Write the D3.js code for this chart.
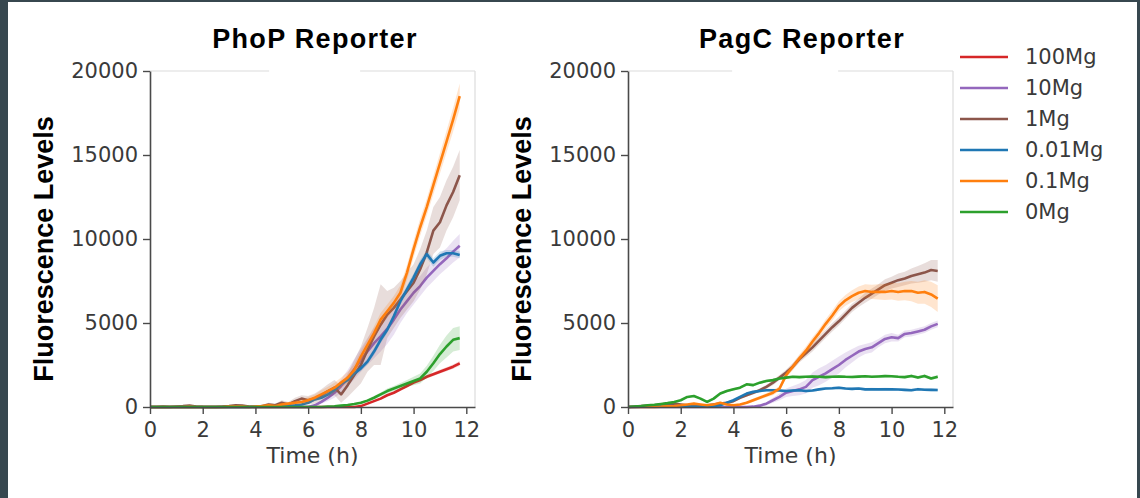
<!DOCTYPE html>
<html>
<head>
<meta charset="utf-8">
<script src="https://cdn.jsdelivr.net/npm/d3@7"></script>
<style>
	html, body { margin: 0; padding: 0; background: #37474f; }
	#chart { width: 1140px; height: 498px; }
</style>
</head>
<body>
<div id="chart"></div>
<script>
// sample times (h)
const hours = [0, 0.25, 0.5, 0.75, 1, 1.25, 1.5, 1.75, 2, 2.25, 2.5, 2.75, 3, 3.25, 3.5, 3.75,
	4, 4.25, 4.5, 4.75, 5, 5.25, 5.5, 5.75, 6, 6.25, 6.5, 6.75, 7, 7.25, 7.5, 7.75,
	8, 8.25, 8.5, 8.75, 9, 9.25, 9.5, 9.75, 10, 10.25, 10.5, 10.75, 11, 11.25, 11.5, 11.75]

const seriesLabels = ["100Mg", "10Mg", "1Mg", "0.01Mg", "0.1Mg", "0Mg"]
const seriesColors = ["#d62728", "#9467bd", "#8c564b", "#1f77b4", "#ff7f0e", "#2ca02c"]

const xTicks = [0, 2, 4, 6, 8, 10, 12]
const yTicks = [0, 5000, 10000, 15000, 20000]

// ---- PhoP reporter ----
const phop100 = [0, 0, 0, 0, 0, 0, 0, 0, 0, 0, 0, 0, 0, 0, 0, 0,
	0, 0, 0, 0, 0, 0, 0, 0, 0, 0, 0, 0, 0, 0, 0, 0,
	50, 200, 350, 500, 700, 850, 1050, 1250, 1450, 1600, 1800, 1950, 2100, 2250, 2400, 2600]
const phop100Sd = [0, 0, 0, 0, 0, 0, 0, 0, 0, 0, 0, 0, 0, 0, 0, 0,
	0, 0, 0, 0, 0, 0, 0, 0, 0, 0, 0, 0, 0, 0, 0, 0,
	20, 30, 40, 50, 60, 70, 80, 80, 90, 90, 100, 100, 110, 120, 130, 140]

const phop10 = [0, 0, 0, 0, 0, 0, 0, 0, 0, 0, 0, 0, 0, 0, 0, 0,
	0, 0, 0, 0, 0, 0, 0, 0, 0, 100, 300, 550, 850, 1250, 1700, 2250,
	2800, 3300, 3800, 4200, 4650, 5200, 5800, 6300, 6800, 7200, 7700, 8100, 8500, 8850, 9250, 9600]
const phop10Sd = [0, 0, 0, 0, 0, 0, 0, 0, 0, 0, 0, 0, 0, 0, 0, 0,
	0, 0, 0, 0, 0, 0, 0, 0, 0, 50, 100, 200, 300, 400, 500, 600,
	700, 800, 900, 900, 900, 900, 800, 700, 700, 600, 600, 600, 600, 600, 650, 700]

const phop1 = [0, 0, 20, 0, 30, 50, 80, 30, 10, 0, 0, 20, 50, 100, 80, 30,
	0, 50, 150, 100, 250, 150, 350, 500, 400, 500, 700, 950, 1150, 750, 1300, 1900,
	2500, 3400, 4200, 4900, 5500, 5900, 6400, 6900, 7400, 8200, 9200, 10500, 11000, 12000, 12800, 13800]
const phop1Sd = [0, 0, 0, 0, 0, 0, 0, 0, 0, 0, 0, 0, 0, 0, 0, 0,
	50, 80, 100, 100, 150, 150, 200, 200, 250, 300, 350, 400, 450, 500, 700, 900,
	1100, 1300, 1700, 2400, 1400, 1200, 1100, 1100, 1100, 1200, 1300, 1400, 1500, 1500, 1500, 1500]

const phop001 = [0, 0, 0, 0, 0, 0, 0, 0, 0, 0, 0, 0, 0, 0, 0, 0,
	20, 30, 50, 40, 80, 60, 100, 150, 250, 450, 550, 750, 1000, 1400, 1600, 2000,
	2300, 2700, 3300, 4000, 4600, 5400, 6300, 7000, 7700, 8500, 9100, 8600, 9000, 9150, 9150, 9050]
const phop001Sd = [0, 0, 0, 0, 0, 0, 0, 0, 0, 0, 0, 0, 0, 0, 0, 0,
	0, 0, 0, 0, 20, 30, 50, 60, 80, 100, 100, 120, 150, 150, 150, 150,
	150, 150, 200, 200, 200, 200, 200, 250, 250, 250, 250, 250, 250, 200, 200, 200]

const phop01 = [0, 0, 0, 0, 0, 0, 10, 0, 0, 0, 0, 0, 20, 30, 20, 0,
	30, 50, 100, 50, 150, 200, 250, 300, 400, 550, 750, 950, 1150, 1450, 1750, 2200,
	3000, 3700, 4400, 5200, 5700, 6200, 6800, 8000, 9400, 10700, 11900, 13200, 14500, 15800, 17100, 18500]
const phop01Sd = [0, 0, 0, 0, 0, 0, 0, 0, 0, 0, 0, 0, 0, 0, 0, 0,
	30, 50, 60, 80, 100, 100, 120, 150, 200, 200, 250, 250, 300, 300, 350, 350,
	350, 350, 400, 400, 400, 400, 450, 450, 500, 500, 500, 550, 600, 650, 700, 750]

const phop0 = [0, 0, 0, 0, 0, 0, 0, 0, 0, 0, 0, 0, 0, 0, 0, 0,
	0, 0, 0, 0, 0, 0, 0, 0, 0, 0, 0, 20, 40, 80, 120, 180,
	250, 380, 550, 750, 950, 1100, 1250, 1400, 1550, 1700, 2100, 2600, 3150, 3600, 4000, 4100]
const phop0Sd = [0, 0, 0, 0, 0, 0, 0, 0, 0, 0, 0, 0, 0, 0, 0, 0,
	0, 0, 0, 0, 0, 0, 0, 0, 0, 0, 0, 10, 20, 30, 40, 50,
	60, 80, 100, 120, 150, 150, 180, 200, 250, 300, 350, 450, 550, 650, 700, 700]

// ---- PagC reporter (no 100Mg trace) ----
const pagc10 = [0, 0, 0, 0, 0, 0, 0, 0, 0, 0, 0, 0, 0, 0, 0, 0,
	0, 0, 0, 20, 80, 200, 400, 600, 850, 950, 1050, 1200, 1600, 1800, 2000, 2250,
	2500, 2800, 3050, 3300, 3450, 3550, 3800, 4050, 4150, 4100, 4350, 4400, 4500, 4600, 4800, 4950]
const pagc10Sd = [0, 0, 0, 0, 0, 0, 0, 0, 0, 0, 0, 0, 0, 0, 0, 0,
	0, 0, 0, 30, 60, 100, 150, 200, 250, 300, 350, 400, 450, 500, 500, 500,
	500, 450, 400, 350, 300, 300, 250, 250, 250, 200, 200, 200, 200, 200, 200, 200]

const pagc1 = [0, 20, 50, 80, 100, 150, 200, 200, 150, 100, 100, 80, 100, 150, 200, 250,
	350, 550, 700, 850, 1000, 1200, 1450, 1750, 2050, 2400, 2850, 3200, 3550, 3950, 4350, 4750,
	5100, 5500, 5900, 6200, 6500, 6750, 7000, 7250, 7400, 7550, 7650, 7800, 7900, 8000, 8150, 8100]
const pagc1Sd = [0, 10, 20, 30, 30, 40, 40, 40, 40, 40, 40, 40, 40, 40, 50, 50,
	60, 70, 80, 100, 100, 120, 150, 150, 180, 200, 200, 220, 250, 250, 250, 250,
	250, 250, 250, 250, 300, 300, 300, 350, 350, 400, 400, 450, 500, 550, 600, 650]

const pagc001 = [0, 10, 20, 30, 40, 50, 60, 60, 50, 40, 30, 40, 50, 60, 100, 250,
	400, 600, 800, 900, 950, 1000, 1000, 980, 950, 980, 1000, 950, 980, 1050, 1100, 1120,
	1150, 1100, 1080, 1100, 1050, 1060, 1050, 1060, 1050, 1040, 1020, 1000, 1060, 1030, 1020, 1010]
const pagc001Sd = [0, 10, 10, 10, 20, 20, 20, 20, 20, 20, 20, 20, 20, 20, 30, 40,
	50, 60, 70, 80, 80, 80, 80, 80, 80, 80, 80, 80, 80, 80, 80, 80,
	80, 80, 80, 80, 80, 80, 80, 80, 80, 80, 80, 80, 80, 80, 80, 80]

const pagc01 = [0, 0, 0, 0, 10, 20, 40, 60, 100, 150, 200, 150, 100, 150, 250, 150,
	100, 150, 250, 400, 550, 700, 850, 1100, 1900, 2400, 2900, 3350, 3900, 4400, 4950, 5450,
	6000, 6350, 6600, 6800, 6900, 6850, 6850, 6850, 6900, 6850, 6900, 6900, 6800, 6850, 6700, 6450]
const pagc01Sd = [0, 0, 0, 0, 10, 20, 30, 30, 40, 40, 50, 50, 50, 50, 60, 60,
	60, 60, 80, 100, 100, 120, 150, 150, 200, 200, 220, 250, 250, 250, 280, 300,
	300, 320, 350, 380, 400, 420, 450, 480, 500, 520, 550, 600, 650, 700, 750, 800]

const pagc0 = [0, 30, 60, 100, 130, 180, 230, 300, 400, 600, 650, 500, 300, 500, 800, 950,
	1050, 1150, 1350, 1300, 1450, 1550, 1600, 1700, 1750, 1800, 1780, 1800, 1820, 1800, 1780, 1800,
	1820, 1800, 1790, 1810, 1830, 1800, 1820, 1840, 1830, 1800, 1780, 1850, 1750, 1850, 1700, 1800]
const pagc0Sd = [0, 10, 10, 20, 20, 30, 30, 40, 50, 60, 60, 60, 60, 60, 70, 70,
	70, 70, 80, 80, 80, 80, 80, 80, 80, 80, 80, 80, 80, 80, 80, 80,
	80, 80, 80, 80, 80, 80, 80, 80, 80, 80, 80, 80, 90, 90, 100, 100]

const phopSeries = [
	[phop100, phop100Sd], [phop10, phop10Sd], [phop1, phop1Sd],
	[phop001, phop001Sd], [phop01, phop01Sd], [phop0, phop0Sd]
]
const pagcSeries = [
	null, [pagc10, pagc10Sd], [pagc1, pagc1Sd],
	[pagc001, pagc001Sd], [pagc01, pagc01Sd], [pagc0, pagc0Sd]
]

const svg = d3.select("#chart")
	.append("svg")
	.attr("width", 1140)
	.attr("height", 498)

// white page inside the dark frame
svg.append("rect")
	.attr("x", 8).attr("y", 2)
	.attr("width", 1129).attr("height", 496)
	.attr("fill", "#ffffff")

function drawPanel(opts) {
	const x = d3.scaleLinear().domain([0, 12.33]).range([opts.left, opts.left + 325])
	const y = d3.scaleLinear().domain([0, 20000]).range([407, 71])
	const g = svg.append("g")

	// light top / right spines (top one has a gap, as in the figure)
	g.append("line")
		.attr("x1", x(0)).attr("x2", x(opts.gap[0]))
		.attr("y1", y(20000)).attr("y2", y(20000))
		.attr("stroke", "#dcdcdc").attr("stroke-width", 1.2)
	g.append("line")
		.attr("x1", x(opts.gap[1])).attr("x2", x(12.33))
		.attr("y1", y(20000)).attr("y2", y(20000))
		.attr("stroke", "#dcdcdc").attr("stroke-width", 1.2)
	g.append("line")
		.attr("x1", x(12.33)).attr("x2", x(12.33))
		.attr("y1", y(20000)).attr("y2", y(0))
		.attr("stroke", "#dcdcdc").attr("stroke-width", 1.2)

	const area = d3.area()
		.x((d) => x(d.t))
		.y0((d) => y(d.v - d.sd))
		.y1((d) => y(d.v + d.sd))
	const line = d3.line()
		.x((d) => x(d.t))
		.y((d) => y(d.v))

	opts.series.forEach((s, i) => {
		if (!s) return
		const pts = hours.map((t, k) => ({ t: t, v: s[0][k], sd: s[1][k] }))
		g.append("path")
			.datum(pts)
			.attr("d", area)
			.attr("fill", seriesColors[i])
			.attr("fill-opacity", 0.2)
			.attr("stroke", "none")
		g.append("path")
			.datum(pts)
			.attr("d", line)
			.attr("fill", "none")
			.attr("stroke", seriesColors[i])
			.attr("stroke-width", 2.6)
			.attr("stroke-linejoin", "round")
	})

	// axes
	const yAxis = g.append("g")
		.attr("transform", `translate(${opts.left},0)`)
		.call(d3.axisLeft(y).tickValues(yTicks).tickSize(7).tickSizeOuter(0).tickPadding(5).tickFormat(d3.format("d")))
	const xAxis = g.append("g")
		.attr("transform", "translate(0,407)")
		.call(d3.axisBottom(x).tickValues(xTicks).tickSize(7).tickSizeOuter(0).tickPadding(8))

	;[yAxis, xAxis].forEach((a) => {
		a.select(".domain").attr("stroke", "#4a4a4a").attr("stroke-width", 1.6)
		a.selectAll(".tick line").attr("stroke", "#4a4a4a").attr("stroke-width", 1.4)
		a.selectAll(".tick text")
			.attr("fill", "#3a3a3a")
			.style("font-family", "DejaVu Sans")
			.style("font-size", "21px")
	})

	// title
	g.append("text")
		.attr("x", opts.titleX)
		.attr("y", 48)
		.attr("text-anchor", "middle")
		.style("font-family", "Liberation Sans, Arial, sans-serif")
		.style("font-weight", "bold")
		.style("font-size", "27px")
		.style("letter-spacing", "1.3px")
		.attr("fill", "#000")
		.text(opts.title)

	// axis labels
	g.append("text")
		.attr("transform", `translate(${opts.left - 97},249) rotate(-90)`)
		.attr("text-anchor", "middle")
		.style("font-family", "Liberation Sans, Arial, sans-serif")
		.style("font-weight", "bold")
		.style("font-size", "27px")
		.attr("fill", "#000")
		.text("Fluorescence Levels")

	g.append("text")
		.attr("x", opts.left + 162.5)
		.attr("y", 463)
		.attr("text-anchor", "middle")
		.style("font-family", "DejaVu Sans")
		.style("font-size", "22px")
		.attr("fill", "#3a3a3a")
		.text("Time (h)")
}

drawPanel({ left: 150, title: "PhoP Reporter", titleX: 315, gap: [4.52, 7.97], series: phopSeries })
drawPanel({ left: 628, title: "PagC Reporter", titleX: 802, gap: [3.95, 7.97], series: pagcSeries })

// legend
const legend = svg.append("g").attr("transform", "translate(960,57)")
seriesLabels.forEach((label, i) => {
	const row = legend.append("g").attr("transform", `translate(0,${i * 31})`)
	row.append("line")
		.attr("x1", 0).attr("x2", 48)
		.attr("stroke", seriesColors[i])
		.attr("stroke-width", 2.6)
	row.append("text")
		.attr("x", 65)
		.attr("dy", "0.35em")
		.style("font-family", "DejaVu Sans")
		.style("font-size", "21px")
		.attr("fill", "#3a3a3a")
		.text(label)
})
</script>
</body>
</html>
